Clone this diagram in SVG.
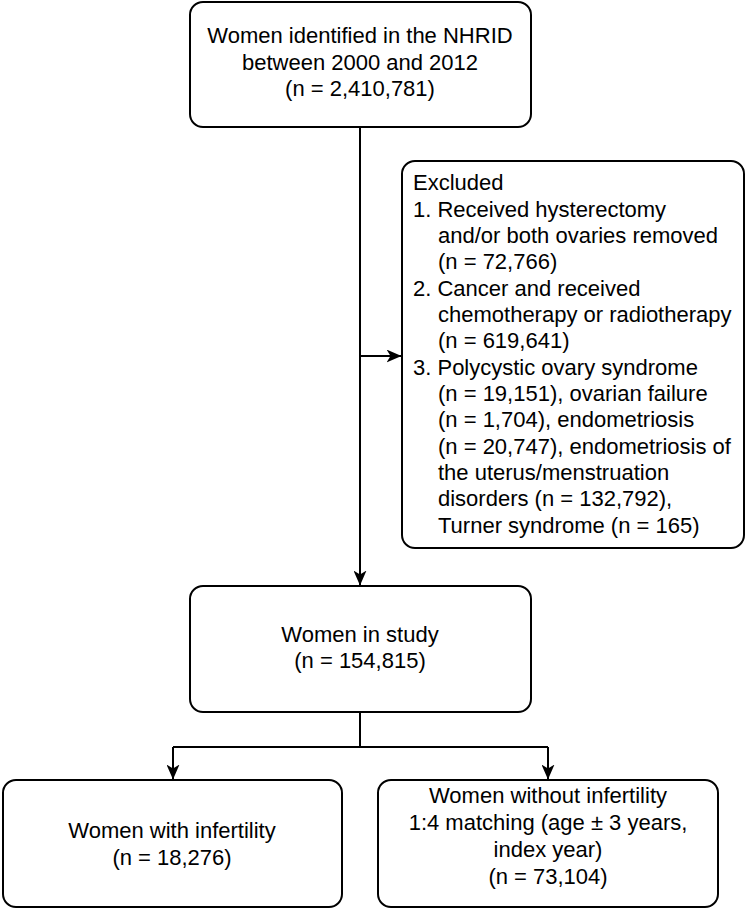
<svg xmlns="http://www.w3.org/2000/svg" width="745" height="909" viewBox="0 0 745 909">
<style>
.box{fill:#fff;stroke:#000;stroke-width:2}
.t{font-family:"Liberation Sans",Arial,sans-serif;font-size:22px;fill:#000}
.c{text-anchor:middle}
.ln{fill:none;stroke:#000;stroke-width:2}
</style>
<defs>
<marker id="ah" viewBox="0 0 15 13" refX="14.5" refY="6.5" markerWidth="15" markerHeight="13" markerUnits="userSpaceOnUse" orient="auto">
<path d="M0,0 L15,6.5 L0,13 L4,6.5 Z" fill="#000"/>
</marker>
</defs>
<g id="connectors">
<path class="ln" d="M360,127 V585" marker-end="url(#ah)"/>
<path class="ln" d="M360,356 H401" marker-end="url(#ah)"/>
<path class="ln" d="M360,712 V747"/>
<path class="ln" d="M173,747 H548"/>
<path class="ln" d="M173,747 V779" marker-end="url(#ah)"/>
<path class="ln" d="M548,747 V779" marker-end="url(#ah)"/>
</g>
<g id="n1">
<rect class="box" x="190" y="2" width="341" height="125" rx="13"/>
<text class="t c" x="360" y="43">Women identified in the NHRID</text>
<text class="t c" x="360" y="70">between 2000 and 2012</text>
<text class="t c" x="360" y="96">(n = 2,410,781)</text>
</g>
<g id="excluded">
<rect class="box" x="402" y="161" width="342" height="387" rx="13"/>
<text class="t" x="413" y="190">Excluded</text>
<text class="t" x="413" y="217">1. Received hysterectomy</text>
<text class="t" x="438" y="243">and/or both ovaries removed</text>
<text class="t" x="438" y="269">(n = 72,766)</text>
<text class="t" x="413" y="296">2. Cancer and received</text>
<text class="t" x="438" y="322">chemotherapy or radiotherapy</text>
<text class="t" x="438" y="348">(n = 619,641)</text>
<text class="t" x="413" y="375">3. Polycystic ovary syndrome</text>
<text class="t" x="438" y="401">(n = 19,151), ovarian failure</text>
<text class="t" x="438" y="427">(n = 1,704), endometriosis</text>
<text class="t" x="438" y="454">(n = 20,747), endometriosis of</text>
<text class="t" x="438" y="480">the uterus/menstruation</text>
<text class="t" x="438" y="506">disorders (n = 132,792),</text>
<text class="t" x="438" y="533">Turner syndrome (n = 165)</text>
</g>
<g id="n2">
<rect class="box" x="190" y="586" width="341" height="126" rx="13"/>
<text class="t c" x="360" y="642">Women in study</text>
<text class="t c" x="360" y="668">(n = 154,815)</text>
</g>
<g id="n3">
<rect class="box" x="3" y="780" width="339" height="127" rx="13"/>
<text class="t c" x="172" y="838">Women with infertility</text>
<text class="t c" x="172" y="865">(n = 18,276)</text>
</g>
<g id="n4">
<rect class="box" x="378" y="780" width="340" height="127" rx="13"/>
<text class="t c" x="548" y="803">Women without infertility</text>
<text class="t c" x="548" y="830">1:4 matching (age ± 3 years,</text>
<text class="t c" x="548" y="857">index year)</text>
<text class="t c" x="548" y="884">(n = 73,104)</text>
</g>
</svg>
